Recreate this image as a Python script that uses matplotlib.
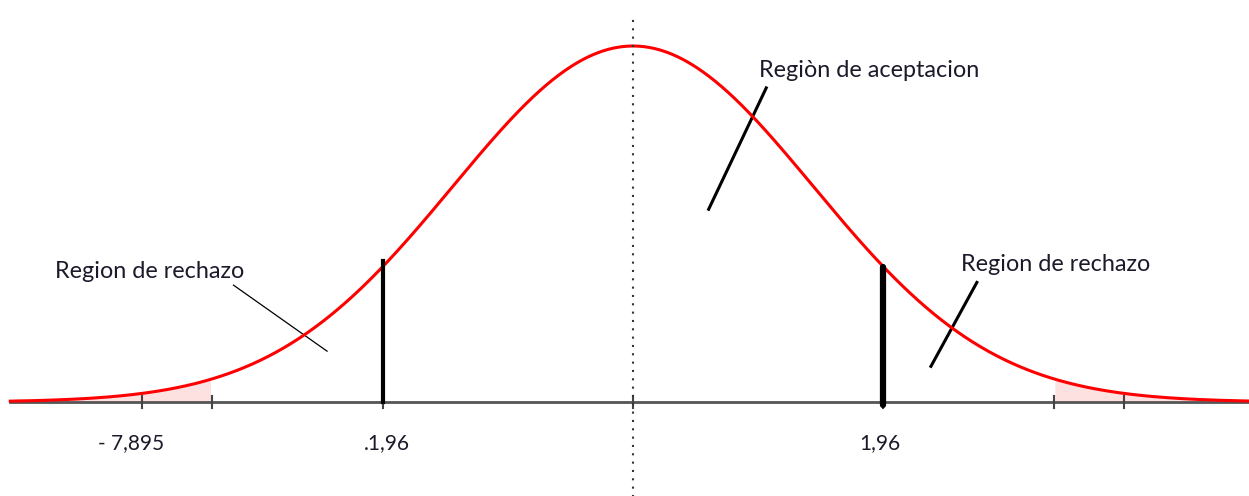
import matplotlib.pyplot as plt
import numpy as np

plt.rcParams['font.family'] = ['Lato', 'DejaVu Sans']

# standard normal curve, x in z units
mu = 0.0
sigma = 1.0
tick_pos = [-2.73, -2.34, -1.39, 0.0, 1.39, 2.34, 2.73]
crit_left = -1.39
crit_right = 1.39
tail_left = -2.34
tail_right = 2.34
label_pos = [-2.79, -1.37, 1.37]
label_txt = ['- 7,895', '.1,96', '1,96']

x_min, x_max = -3.46, 3.43

x = np.linspace(x_min, x_max, 800)
y = np.exp(-0.5 * ((x - mu) / sigma) ** 2) / (sigma * np.sqrt(2 * np.pi))

def pdf(v):
    return np.exp(-0.5 * ((v - mu) / sigma) ** 2) / (sigma * np.sqrt(2 * np.pi))

fig = plt.figure(figsize=(12.49, 4.96), dpi=100)
ax = fig.add_axes([0, 0, 1, 1])
ax.set_xlim(-3.517, 3.422)
ax.set_ylim(-0.1053, 0.4505)
ax.axis('off')

# shaded tails
m = x <= tail_left
ax.fill_between(x[m], 0, y[m], color='#fde0e0', lw=0)
m = x >= tail_right
ax.fill_between(x[m], 0, y[m], color='#fde0e0', lw=0)

# axis line and ticks
ax.plot([x_min, 3.422], [0, 0], color='#555555', lw=2, zorder=2)
for t in tick_pos:
    ax.plot([t, t], [-0.0067, 0.0067], color='#444444', lw=1.5, zorder=2)

# curve
ax.plot(x, y, color='#ff0000', lw=2.2, zorder=3)

# centre dotted line
ax.plot([0, 0], [-0.11, 0.435], color='#333333', lw=1.5,
        linestyle=(0, (1, 3)), zorder=4)

# critical values
ax.plot([crit_left, crit_left], [0, pdf(crit_left) + 0.006], color='black',
        lw=3, zorder=4)
ax.plot([crit_right, crit_right], [-0.003, pdf(crit_right)], color='black',
        lw=4.5, solid_capstyle='round', zorder=4)

# tick labels
for p, s in zip(label_pos, label_txt):
    ax.text(p, -0.046, s, ha='center', va='center', fontsize=15, color='#1a1a2a')

# annotations
ax.text(-3.21, 0.146, 'Region de rechazo', ha='left', va='center', fontsize=16.8,
        color='#1a1a2a')
ax.plot([-2.22, -1.70], [0.131, 0.057], color='black', lw=0.9)

ax.text(0.70, 0.3715, 'Regiòn de aceptacion', ha='left', va='center',
        fontsize=16.8, color='#1a1a2a')
ax.plot([0.74, 0.42], [0.352, 0.216], color='black', lw=2.2)

ax.text(1.82, 0.154, 'Region de rechazo', ha='left', va='center', fontsize=16.8,
        color='#1a1a2a')
ax.plot([1.91, 1.655], [0.134, 0.040], color='black', lw=2.2)

fig.savefig('out.png', dpi=100)
